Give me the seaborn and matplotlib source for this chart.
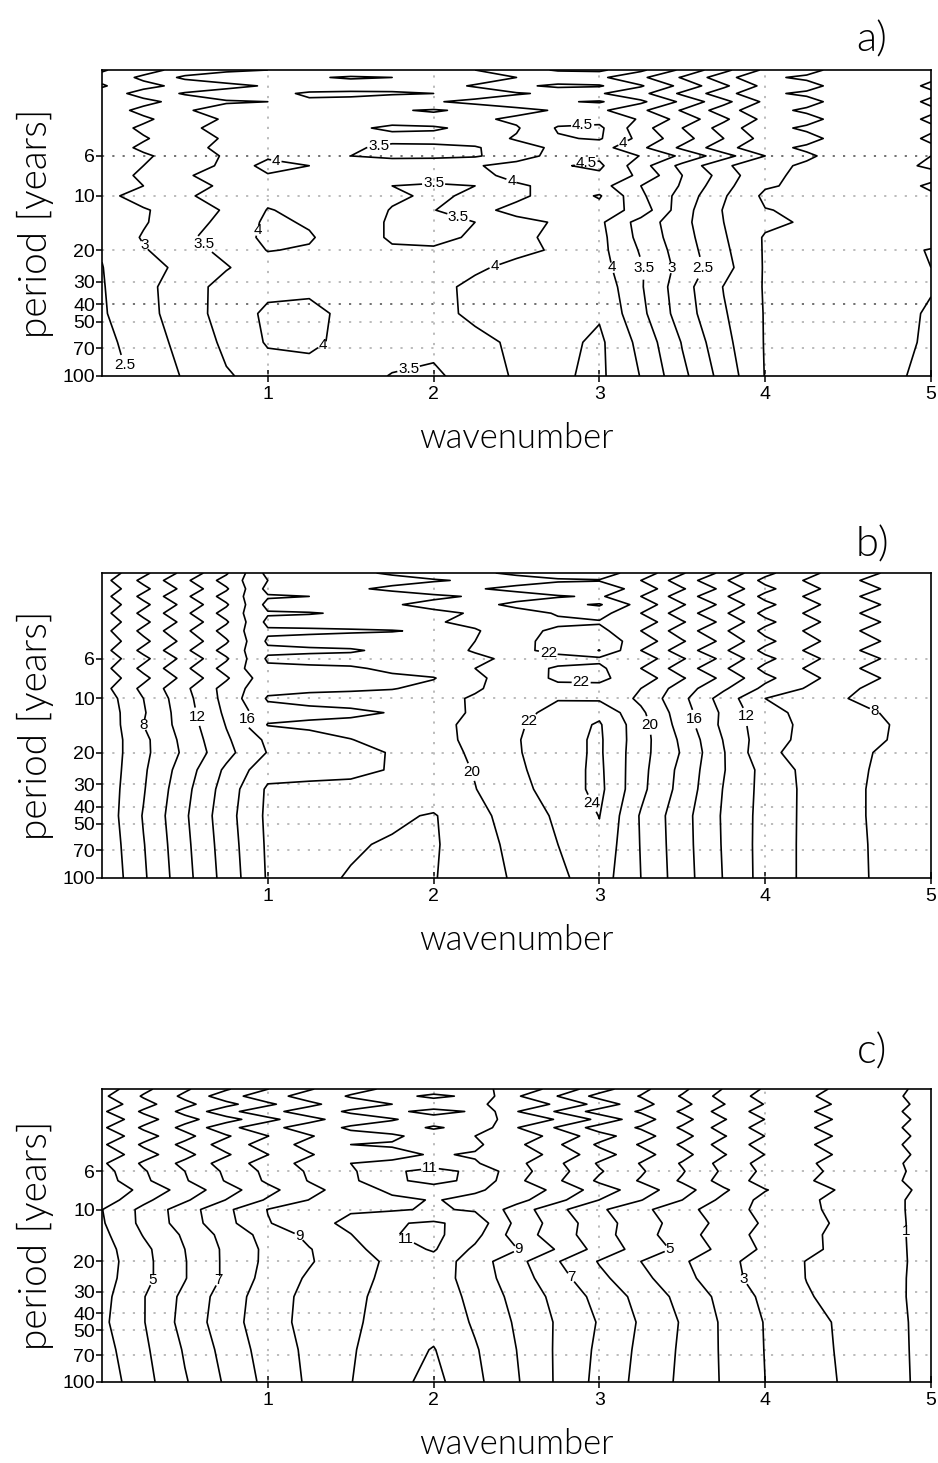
import numpy as np
import matplotlib
matplotlib.use("Agg")
import matplotlib.pyplot as plt
from matplotlib.ticker import NullLocator
import seaborn as sns

# ---------------------------------------------------------------------------
# Grid of the spectra: wavenumber (columns) x period in years (rows)
# ---------------------------------------------------------------------------
wavenumber = [0.0, 0.25, 0.5, 0.75, 1.0, 1.25, 1.5, 1.75, 2.0, 2.25, 2.5,
              2.75, 3.0, 3.25, 3.5, 3.75, 4.0, 4.25, 4.5, 4.75, 5.0]
period = [2.0, 2.2, 2.45, 2.7, 3.0, 3.35, 3.75, 4.2, 4.8, 5.4, 6.0, 6.8,
          7.7, 8.8, 10, 12, 14, 17, 20, 25, 32, 45, 65, 100]

# panel a: one row per period, one value per wavenumber
power_a = [
    [2.45, 2.8, 3.2, 3.4, 3.5, 3.65, 3.8, 3.7, 3.75, 4.0, 4.3, 4.55, 4.6, 4.1, 3.4, 2.65, 1.9, 1.6, 1.35, 1.15, 1.1],
    [2.65, 3.1, 3.6, 3.8, 3.75, 3.55, 3.45, 3.5, 3.6, 3.75, 4.0, 4.15, 4.1, 3.6, 2.95, 2.2, 1.55, 1.45, 1.3, 1.1, 1.05],
    [2.45, 2.85, 3.15, 3.35, 3.55, 3.7, 3.75, 3.65, 3.8, 4.05, 4.4, 4.6, 4.55, 4.05, 3.35, 2.6, 1.85, 1.6, 1.35, 1.15, 0.95],
    [2.7, 3.2, 3.55, 3.75, 3.6, 3.45, 3.4, 3.45, 3.5, 3.7, 3.95, 4.1, 4.05, 3.65, 2.9, 2.2, 1.55, 1.45, 1.3, 1.1, 1.05],
    [2.5, 2.85, 3.2, 3.45, 3.5, 3.55, 3.65, 3.8, 3.95, 4.15, 4.3, 4.45, 4.55, 4.1, 3.4, 2.65, 1.9, 1.6, 1.35, 1.15, 0.95],
    [2.7, 3.15, 3.45, 3.7, 3.75, 3.7, 3.6, 3.55, 3.45, 3.6, 3.85, 4.05, 4.1, 3.6, 2.95, 2.25, 1.6, 1.45, 1.3, 1.1, 1.05],
    [2.5, 2.9, 3.3, 3.55, 3.65, 3.62, 3.6, 3.6, 3.7, 3.9, 4.1, 4.3, 4.35, 3.95, 3.3, 2.6, 1.85, 1.6, 1.35, 1.15, 0.95],
    [2.7, 3.1, 3.4, 3.65, 3.6, 3.6, 3.55, 3.45, 3.45, 3.6, 3.95, 4.55, 4.6, 3.7, 3.0, 2.3, 1.6, 1.45, 1.3, 1.1, 1.05],
    [2.55, 2.95, 3.3, 3.55, 3.65, 3.65, 3.62, 3.6, 3.65, 3.75, 4.05, 4.45, 4.55, 3.85, 3.2, 2.5, 1.8, 1.6, 1.35, 1.15, 0.95],
    [2.7, 3.1, 3.35, 3.62, 3.7, 3.65, 3.55, 3.42, 3.4, 3.45, 3.8, 4.1, 4.2, 3.6, 2.9, 2.2, 1.6, 1.45, 1.3, 1.1, 1.05],
    [2.5, 2.92, 3.25, 3.55, 3.9, 3.75, 3.5, 3.4, 3.4, 3.45, 3.75, 4.2, 4.4, 3.98, 3.4, 2.7, 2.0, 1.55, 1.35, 1.15, 1.0],
    [2.6, 3.0, 3.3, 3.58, 4.2, 4.0, 3.85, 3.8, 3.85, 3.95, 4.2, 4.45, 4.6, 3.7, 2.85, 2.1, 1.6, 1.45, 1.3, 1.1, 0.95],
    [2.7, 3.1, 3.45, 3.7, 3.95, 3.9, 3.8, 3.75, 3.8, 3.9, 4.1, 4.3, 4.4, 3.9, 3.0, 2.3, 1.55, 1.45, 1.3, 1.2, 1.1],
    [2.6, 3.0, 3.3, 3.6, 3.95, 3.85, 3.75, 3.5, 3.4, 3.5, 3.95, 4.1, 4.2, 3.5, 2.95, 2.15, 1.55, 1.4, 1.3, 1.15, 0.95],
    [2.85, 3.2, 3.45, 3.65, 3.9, 3.85, 3.75, 3.55, 3.45, 3.55, 3.9, 4.2, 4.55, 3.6, 2.8, 2.05, 1.4, 1.35, 1.3, 1.2, 1.05],
    [2.55, 2.95, 3.25, 3.55, 4.02, 3.9, 3.7, 3.48, 3.48, 3.85, 4.15, 4.2, 4.3, 3.8, 2.7, 1.97, 1.52, 1.42, 1.35, 1.28, 1.25],
    [2.6, 2.95, 3.35, 3.6, 4.1, 3.95, 3.7, 3.45, 3.38, 3.5, 3.85, 4.05, 4.1, 3.3, 2.65, 2.0, 1.6, 1.45, 1.35, 1.25, 1.2],
    [2.55, 3.05, 3.4, 3.75, 4.1, 4.05, 3.7, 3.45, 3.4, 3.55, 3.9, 4.1, 4.15, 3.35, 2.7, 2.05, 1.45, 1.4, 1.3, 1.2, 1.15],
    [2.52, 2.95, 3.35, 3.6, 4.02, 3.95, 3.75, 3.55, 3.55, 3.7, 3.9, 4.05, 4.15, 3.45, 2.75, 2.1, 1.45, 1.35, 1.25, 1.1, 0.98],
    [2.49, 2.8, 3.14, 3.47, 3.75, 3.8, 3.75, 3.72, 3.82, 3.93, 4.12, 4.3, 4.2, 3.55, 2.82, 2.18, 1.45, 1.35, 1.25, 1.13, 1.0],
    [2.47, 2.86, 3.27, 3.68, 3.88, 3.9, 3.8, 3.78, 3.85, 4.12, 4.3, 4.38, 4.35, 3.55, 2.7, 1.98, 1.46, 1.35, 1.25, 1.13, 1.02],
    [2.45, 2.83, 3.27, 3.69, 4.1, 4.15, 3.85, 3.75, 3.85, 4.1, 4.3, 4.4, 4.45, 3.63, 2.75, 2.05, 1.47, 1.35, 1.25, 1.12, 0.96],
    [2.35, 2.75, 3.16, 3.6, 4.05, 4.1, 3.85, 3.65, 3.6, 3.85, 4.1, 4.35, 4.6, 3.85, 2.97, 2.15, 1.47, 1.35, 1.22, 1.1, 0.95],
    [2.25, 2.65, 3.05, 3.45, 3.7, 3.75, 3.65, 3.48, 3.42, 3.7, 4.07, 4.43, 4.6, 3.98, 3.13, 2.3, 1.48, 1.35, 1.2, 1.07, 0.9],
]

# panel b
power_b = [
    [4.7, 7.5, 10.6, 13.75, 18.6, 19.0, 19.5, 20.3, 21.0, 21.6, 22.4, 23.0, 22.8, 21.2, 18.2, 15.5, 12.5, 10.55, 8.9, 7.75, 6.5],
    [5.3, 8.5, 11.6, 14.75, 18.0, 18.3, 18.7, 19.2, 19.8, 20.3, 21.1, 21.7, 21.9, 20.0, 17.0, 14.3, 11.5, 9.85, 8.3, 7.25, 6.1],
    [4.7, 7.5, 10.6, 13.75, 18.6, 19.0, 19.6, 20.5, 21.2, 21.8, 22.6, 23.4, 23.2, 21.2, 18.2, 15.5, 12.5, 10.55, 8.9, 7.75, 6.5],
    [5.3, 8.5, 11.6, 14.75, 17.8, 18.0, 18.4, 18.8, 19.6, 20.2, 21.0, 21.8, 22.3, 20.0, 17.0, 14.3, 11.5, 9.85, 8.3, 7.25, 6.1],
    [4.7, 7.5, 10.6, 13.75, 18.6, 18.8, 19.2, 19.8, 20.6, 21.2, 22.6, 23.5, 24.2, 21.2, 18.2, 15.5, 12.5, 10.55, 8.9, 7.75, 6.5],
    [5.3, 8.5, 11.6, 14.75, 17.8, 17.9, 18.2, 18.9, 19.5, 20.2, 21.0, 22.2, 22.8, 20.0, 17.0, 14.3, 11.5, 9.85, 8.3, 7.25, 6.1],
    [4.7, 7.5, 10.6, 13.75, 18.5, 18.7, 18.8, 19.2, 19.8, 20.5, 21.2, 21.6, 21.8, 21.2, 18.2, 15.5, 12.5, 10.55, 8.9, 7.75, 6.5],
    [5.3, 8.5, 11.6, 14.75, 17.7, 17.7, 17.8, 17.9, 18.3, 19.8, 21.3, 22.4, 22.6, 20.0, 17.0, 14.3, 11.5, 9.85, 8.3, 7.25, 6.1],
    [4.7, 7.5, 10.6, 13.75, 18.3, 18.6, 18.8, 19.0, 19.5, 20.0, 21.5, 22.6, 23.0, 21.2, 18.2, 15.5, 12.5, 10.55, 8.9, 7.75, 6.5],
    [5.3, 8.5, 11.6, 14.75, 17.6, 17.7, 17.8, 18.4, 19.0, 20.2, 21.6, 22.5, 24.05, 20.0, 17.0, 14.3, 11.5, 9.85, 8.3, 7.25, 6.1],
    [4.7, 7.5, 10.6, 13.75, 18.3, 18.5, 18.6, 18.8, 19.2, 19.5, 20.6, 21.4, 21.6, 21.2, 18.2, 15.5, 12.5, 10.55, 8.9, 7.75, 6.5],
    [5.3, 8.5, 11.6, 14.75, 17.6, 17.7, 17.8, 18.3, 19.0, 20.0, 21.3, 22.2, 22.4, 20.0, 17.0, 14.3, 11.5, 9.85, 8.3, 7.25, 6.1],
    [4.7, 7.5, 10.6, 13.75, 17.3, 17.4, 17.5, 17.7, 17.9, 19.6, 21.0, 22.3, 22.3, 21.2, 18.2, 15.5, 12.5, 10.55, 8.9, 7.75, 6.5],
    [5.3, 8.5, 11.6, 14.75, 17.5, 17.6, 17.7, 17.9, 18.6, 19.8, 20.8, 21.5, 21.6, 20.0, 17.0, 14.3, 11.5, 9.85, 8.3, 7.25, 6.1],
    [4.8, 8.0, 11.3, 14.7, 18.2, 18.6, 18.8, 19.0, 19.4, 20.2, 21.2, 21.9, 21.7, 19.6, 16.5, 13.1, 10.0, 9.0, 8.0, 7.3, 6.5],
    [4.6, 7.8, 11.1, 14.4, 17.2, 17.4, 17.6, 18.1, 19.0, 20.3, 21.4, 22.6, 23.6, 20.4, 16.9, 13.6, 10.6, 9.5, 8.6, 7.8, 6.8],
    [4.4, 8.0, 10.9, 14.1, 18.1, 18.4, 18.6, 18.9, 19.4, 20.5, 21.7, 23.1, 24.2, 20.8, 17.1, 13.5, 10.8, 9.6, 8.8, 8.0, 7.0],
    [4.5, 7.5, 10.6, 13.7, 16.4, 17.2, 17.95, 18.6, 19.3, 20.5, 21.85, 23.3, 24.3, 20.8, 17.6, 13.9, 10.8, 9.5, 8.8, 7.95, 6.9],
    [4.5, 7.5, 10.4, 13.4, 16.1, 16.8, 17.5, 18.1, 19.2, 20.3, 21.8, 23.3, 24.3, 20.7, 17.8, 14.1, 10.5, 9.2, 8.6, 7.6, 6.5],
    [4.5, 7.7, 11.0, 14.4, 17.3, 17.5, 17.6, 18.1, 19.0, 20.1, 21.6, 23.2, 24.4, 20.6, 17.4, 14.1, 11.3, 9.5, 8.5, 7.5, 6.4],
    [4.6, 7.85, 11.4, 14.9, 18.3, 18.4, 18.5, 18.6, 19.0, 19.95, 21.3, 23.0, 24.5, 20.5, 17.25, 13.9, 11.3, 9.6, 8.45, 7.4, 6.4],
    [4.6, 8.13, 11.7, 15.2, 18.4, 18.8, 18.6, 18.3, 17.85, 19.4, 20.9, 22.3, 24.05, 19.8, 16.75, 13.75, 11.25, 9.6, 8.45, 7.4, 6.4],
    [4.4, 7.9, 11.5, 15.0, 18.3, 18.6, 18.2, 17.8, 17.8, 19.1, 20.6, 22.0, 23.5, 19.9, 16.8, 13.8, 11.2, 9.6, 8.5, 7.45, 6.4],
    [4.2, 7.7, 11.3, 14.8, 18.2, 18.5, 17.85, 17.6, 17.9, 19.0, 20.3, 21.6, 23.0, 20.0, 16.9, 13.9, 11.2, 9.6, 8.5, 7.5, 6.5],
]

# panel c
power_c = [
    [3.45, 4.75, 5.85, 6.88, 7.98, 8.91, 9.67, 10.2, 10.5, 10.3, 9.62, 8.63, 7.43, 6.25, 5.21, 3.95, 2.88, 2.27, 1.75, 1.23, 0.72],
    [3.8, 5.1, 6.2, 7.58, 8.61, 9.4, 10.09, 10.7, 11.2, 10.8, 9.11, 7.98, 6.66, 5.95, 4.91, 3.67, 2.63, 2.11, 1.64, 1.16, 0.67],
    [3.35, 4.65, 5.75, 6.68, 7.8, 8.77, 9.55, 10.0, 10.4, 10.1, 9.76, 8.81, 7.65, 6.33, 5.29, 4.03, 2.95, 2.32, 1.78, 1.25, 0.74],
    [3.85, 5.15, 6.25, 7.68, 8.7, 9.47, 10.15, 10.8, 11.3, 10.9, 9.04, 7.89, 6.55, 5.91, 4.87, 3.63, 2.6, 2.09, 1.63, 1.15, 0.66],
    [3.3, 4.6, 5.7, 6.58, 7.71, 8.7, 9.49, 9.9, 10.6, 10.2, 9.83, 8.9, 7.76, 6.37, 5.33, 4.07, 2.98, 2.34, 1.79, 1.26, 0.75],
    [3.85, 5.15, 6.25, 7.68, 8.7, 9.47, 10.15, 10.6, 11.1, 10.7, 9.04, 7.89, 6.55, 5.91, 4.87, 3.63, 2.6, 2.09, 1.63, 1.15, 0.66],
    [3.3, 4.6, 5.7, 6.88, 7.98, 8.91, 9.67, 9.8, 10.5, 10.0, 9.62, 8.63, 7.43, 6.37, 5.33, 4.07, 2.98, 2.34, 1.79, 1.26, 0.75],
    [3.85, 5.15, 6.25, 7.43, 8.48, 9.3, 10.0, 10.1, 10.3, 10.2, 9.22, 8.12, 6.83, 5.91, 4.87, 3.63, 2.6, 2.09, 1.63, 1.15, 0.66],
    [3.3, 4.6, 5.7, 6.88, 7.98, 8.91, 9.67, 9.7, 10.1, 9.9, 9.62, 8.63, 7.43, 6.37, 5.33, 4.07, 2.98, 2.34, 1.79, 1.26, 0.75],
    [3.85, 5.15, 6.25, 7.43, 8.48, 9.3, 10.0, 10.2, 10.6, 10.1, 9.26, 8.17, 6.88, 5.95, 4.91, 3.67, 2.63, 2.11, 1.64, 1.16, 0.67],
    [3.6, 4.9, 6.0, 7.18, 8.25, 9.12, 9.85, 10.85, 11.3, 10.8, 9.4, 8.35, 7.1, 6.12, 5.08, 3.83, 2.77, 2.2, 1.7, 1.2, 0.7],
    [3.5, 4.8, 5.9, 7.08, 8.16, 9.05, 9.79, 10.85, 11.25, 10.8, 9.22, 8.12, 6.82, 5.91, 4.87, 3.63, 2.59, 2.08, 1.62, 1.15, 0.66],
    [3.15, 4.3, 5.4, 6.58, 7.71, 8.7, 9.49, 10.2, 10.6, 10.1, 9.69, 8.72, 7.54, 6.46, 5.42, 4.15, 3.05, 2.38, 1.82, 1.28, 0.76],
    [3.45, 4.75, 5.85, 7.03, 8.12, 9.02, 9.76, 9.8, 10.05, 9.8, 9.33, 8.26, 6.99, 6.04, 5.0, 3.75, 2.7, 2.15, 1.67, 1.18, 0.7],
    [3.98, 5.26, 6.52, 7.79, 9.03, 9.5, 9.9, 9.9, 10.1, 9.9, 8.57, 7.24, 6.17, 5.25, 4.36, 3.44, 2.72, 2.17, 1.7, 1.18, 0.7],
    [3.9, 5.25, 6.45, 7.7, 8.94, 9.6, 10.25, 10.9, 11.15, 10.6, 8.76, 7.55, 6.42, 5.46, 4.57, 3.68, 2.86, 2.3, 1.75, 1.2, 0.7],
    [3.75, 5.05, 6.15, 7.35, 8.37, 9.24, 9.97, 10.95, 11.25, 10.3, 8.54, 7.48, 6.4, 5.38, 4.43, 3.46, 2.71, 2.19, 1.69, 1.2, 0.7],
    [3.6, 4.75, 6.0, 7.2, 8.23, 8.95, 9.68, 10.55, 11.1, 9.8, 9.06, 7.9, 6.62, 5.61, 4.73, 3.67, 2.83, 2.2, 1.7, 1.2, 0.72],
    [3.52, 4.7, 5.95, 7.2, 8.24, 8.92, 9.56, 10.2, 10.6, 9.5, 8.33, 7.05, 5.93, 5.0, 4.14, 3.28, 2.57, 1.97, 1.58, 1.19, 0.75],
    [3.6, 4.7, 5.95, 7.2, 8.37, 9.13, 9.67, 10.25, 10.5, 9.55, 8.48, 7.37, 6.25, 5.27, 4.33, 3.36, 2.6, 1.98, 1.6, 1.19, 0.72],
    [3.7, 4.95, 6.25, 7.48, 8.54, 9.27, 9.8, 10.3, 10.55, 9.74, 8.69, 7.71, 6.68, 5.68, 4.69, 3.71, 2.78, 2.08, 1.63, 1.2, 0.7],
    [3.8, 4.95, 6.35, 7.57, 8.59, 9.3, 9.85, 10.35, 10.7, 9.88, 8.88, 7.88, 6.92, 5.88, 4.91, 3.85, 2.95, 2.34, 1.77, 1.25, 0.7],
    [3.6, 4.8, 6.1, 7.35, 8.45, 9.2, 9.9, 10.6, 11.05, 10.1, 9.0, 7.85, 6.8, 5.78, 4.85, 3.87, 2.97, 2.38, 1.8, 1.27, 0.7],
    [3.4, 4.65, 5.9, 7.15, 8.3, 9.15, 9.97, 10.7, 11.3, 10.25, 9.1, 7.85, 6.7, 5.7, 4.8, 3.9, 3.0, 2.42, 1.85, 1.3, 0.7],
]

levels_a = [1.0, 1.5, 2.0, 2.5, 3.0, 3.5, 4.0, 4.5]
levels_b = [6, 8, 10, 12, 14, 16, 18, 20, 22, 24]
levels_c = [1, 2, 3, 4, 5, 6, 7, 8, 9, 10, 11]

period_ticks = [6, 10, 20, 30, 40, 50, 70, 100]
period_ticklabels = ["6", "10", "20", "30", "40", "50", "70", "100"]
wavenumber_ticks = [1, 2, 3, 4, 5]
wavenumber_ticklabels = ["1", "2", "3", "4", "5"]
panel_names = ["a)", "b)", "c)"]

# ---------------------------------------------------------------------------
# Layout (pixels of a 938 x 1463 canvas) and label placement
# ---------------------------------------------------------------------------
W, H = 938, 1463
AX_LEFT, AX_RIGHT = 102, 931
panel_rows = [(70, 376), (573, 878), (1089, 1382)]       # (top, bottom) of each axes
letter_y = [40, 545, 1052]

label_spots = [
    [(0.12, 88), (0.25, 19), (0.6, 19), (1.05, 6.5), (0.93, 15.5), (1.3, 61),
     (1.67, 5.35), (2.0, 8.5), (2.14, 14), (1.85, 92), (2.37, 25), (2.47, 8.2),
     (2.9, 4.3), (2.92, 6.6), (3.12, 4.6), (3.07, 25), (3.27, 25), (3.44, 25),
     (3.64, 25)],
    [(0.24, 14), (0.56, 12.7), (0.87, 13), (2.2, 26), (2.59, 13.7), (2.89, 8.2),
     (2.7, 5.0), (2.91, 40), (3.32, 14), (3.57, 13), (3.83, 12.7), (4.64, 12.8)],
    [(0.32, 26), (0.71, 26), (1.18, 14.5), (1.98, 6.0), (1.83, 15), (2.54, 17.5),
     (2.82, 25), (3.44, 17), (3.83, 27), (4.83, 13.4)],
]

sns.set_theme(style="ticks")
plt.rcParams["font.family"] = ["Liberation Sans", "DejaVu Sans"]
plt.rcParams["axes.linewidth"] = 1.2
plt.rcParams["text.color"] = "black"
plt.rcParams["axes.labelcolor"] = "black"

title_font = dict(family=["Lato", "DejaVu Sans"], weight=300, color="black")

fig = plt.figure(figsize=(W / 100, H / 100), dpi=100)
fig.patch.set_facecolor("white")

X, Y = np.meshgrid(np.array(wavenumber), np.array(period))
fields = [power_a, power_b, power_c]
level_sets = [levels_a, levels_b, levels_c]

for k, (top, bottom) in enumerate(panel_rows):
    ax = fig.add_axes([AX_LEFT / W, 1 - bottom / H,
                       (AX_RIGHT - AX_LEFT) / W, (bottom - top) / H])
    ax.set_facecolor("white")
    ax.set_yscale("log")

    # dotted reference grid
    for p in period_ticks[:-1]:
        dark = (k == 0 and p in (6, 40))
        ax.axhline(p, color="#666666" if dark else "#b5b5b5",
                   linestyle=(0, (1.2, 4.5)), linewidth=1.3, zorder=1)
    for w in wavenumber_ticks[:-1]:
        ax.axvline(w, color="#b5b5b5", linestyle=(0, (1.2, 4.5)),
                   linewidth=1.3, zorder=1)

    Z = np.array(fields[k], dtype=float)
    cs = ax.contour(X, Y, Z, levels=level_sets[k], colors="black",
                    linewidths=1.2, zorder=3)

    ax.set_xlim(0, 5)
    ax.set_ylim(100, 2)
    texts = ax.clabel(cs, manual=label_spots[k], fmt="%g",
                      fontsize=11, inline=True, inline_spacing=1)
    for t in texts:
        t.set_rotation(0)

    ax.set_yticks(period_ticks)
    ax.set_yticklabels(period_ticklabels)
    ax.yaxis.set_minor_locator(NullLocator())
    ax.set_xticks(wavenumber_ticks)
    ax.set_xticklabels(wavenumber_ticklabels)
    ax.tick_params(axis="y", direction="out", length=4, width=1.1,
                   labelsize=14, pad=1, colors="black")
    ax.tick_params(axis="x", direction="inout", length=8, width=1.1,
                   labelsize=14, pad=3, colors="black")
    for s in ax.spines.values():
        s.set_color("black")
        s.set_linewidth(1.2)

    ax.set_xlabel("wavenumber", fontsize=25, labelpad=14, **title_font)
    ax.set_ylabel("period [years]", fontsize=28, **title_font)
    ax.yaxis.set_label_coords(-0.058, 0.5)

    fig.text(872 / W, 1 - letter_y[k] / H, panel_names[k], fontsize=30,
             ha="center", va="center", **title_font)

fig.savefig("out.png", dpi=100, facecolor="white")
